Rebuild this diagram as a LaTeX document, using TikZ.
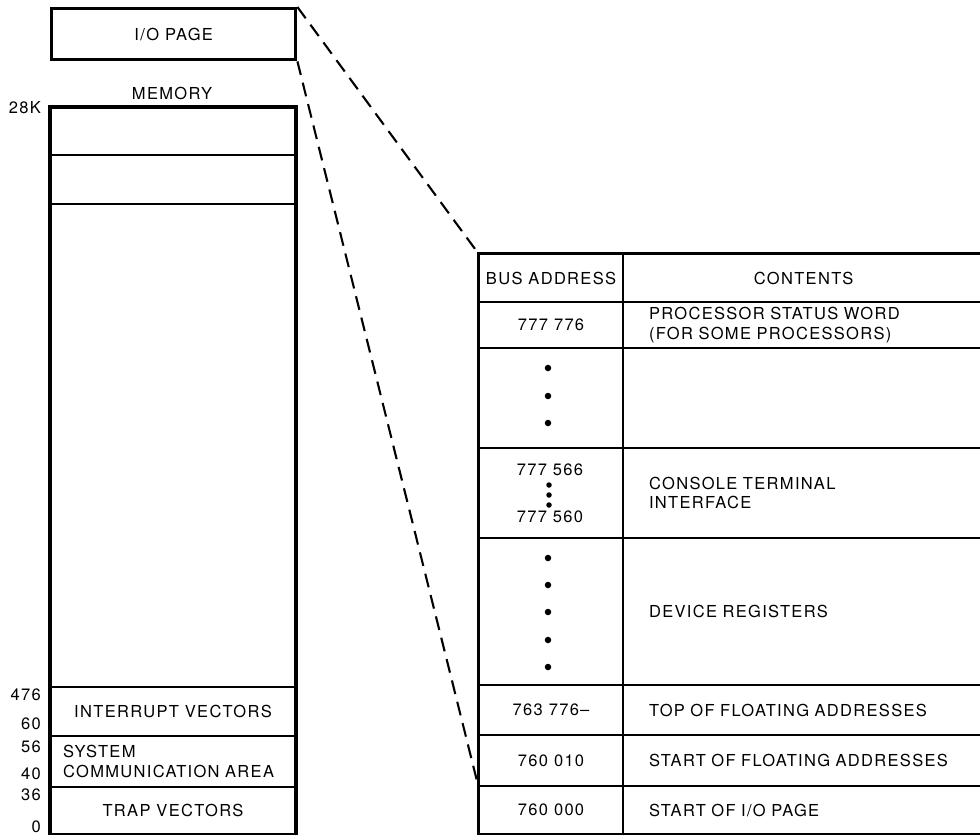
\documentclass[tikz,border=0pt]{standalone}
\usepackage{fontspec}
\setmainfont{TeX Gyre Heros}[LetterSpace=8]
\usepackage{tikz}
\usetikzlibrary{positioning}
\tikzstyle{iobox}=[rectangle, draw=black, line width=3.4pt, anchor=north west,
minimum width=244pt, minimum height=51pt, inner sep=0pt]
\tikzstyle{memcell}=[rectangle, draw=black, line width=2.1pt, anchor=north west,
minimum width=244pt, inner sep=0pt]
\tikzstyle{addrcell}=[rectangle, draw=black, line width=2.1pt, anchor=north west,
minimum width=144pt, inner sep=0pt]
\tikzstyle{textcell}=[rectangle, draw=black, line width=2.1pt, anchor=north west,
minimum width=361pt, text width=309pt, inner xsep=26pt, inner ysep=0pt, align=left]
\tikzstyle{marker}=[anchor=east, inner sep=0pt]
\tikzstyle{regdot}=[circle, fill=black, inner sep=0pt, minimum size=6.5pt]
\tikzstyle{zoomline}=[line width=2.1pt, dash pattern=on 14pt off 8pt]

\begin{document}
\begin{tikzpicture}[x=1pt, y=-1pt, font=\fontsize{16.5}{19.5}\selectfont]
            \useasboundingbox (0,0) rectangle (980,835);
            % I/O page and memory
            \node (iopage)[iobox] at (50,7) {I/O PAGE};
            \node (memlabel) at (172,93) {MEMORY};
            \node (m1)[memcell, minimum height=47pt] at (50,107) {};
            \node (m2)[memcell, minimum height=49pt] at (50,154) {};
            \node (m3)[memcell, minimum height=483pt] at (50,203) {};
            \node (ivec)[memcell, minimum height=49pt] at (50,686) {INTERRUPT VECTORS};
            \node (sca)[memcell, minimum height=51pt, text width=220pt, inner xsep=12pt, align=left]
                at (50,735) {SYSTEM\\COMMUNICATION AREA};
            \node (trap)[memcell, minimum height=47pt] at (50,786) {TRAP VECTORS};
            \draw[line width=3.4pt] (m1.north west) rectangle (trap.south east);
            % address marks
            \node[marker] at (41,108) {28K};
            \node[marker] at (41,695) {476};
            \node[marker] at (41,724) {60};
            \node[marker] at (41,747) {56};
            \node[marker] at (41,774) {40};
            \node[marker] at (41,795) {36};
            \node[marker] at (41,827) {0};
            % I/O page table
            \node (hdaddr)[addrcell, minimum height=48pt] at (478,253) {BUS ADDRESS};
            \node (hdcont)[textcell, minimum height=48pt, align=center] at (622,253) {CONTENTS};
            \node (a1)[addrcell, minimum height=46pt] at (478,301) {777 776};
            \node (c1)[textcell, minimum height=46pt] at (622,301) {PROCESSOR STATUS WORD\\(FOR SOME PROCESSORS)};
            \node (a2)[addrcell, minimum height=100pt] at (478,347) {};
            \node (c2)[textcell, minimum height=100pt] at (622,347) {};
            \node (a3)[addrcell, minimum height=90pt] at (478,447) {};
            \node (c3)[textcell, minimum height=90pt] at (622,447) {CONSOLE TERMINAL\\INTERFACE};
            \node (a4)[addrcell, minimum height=147pt] at (478,537) {};
            \node (c4)[textcell, minimum height=147pt] at (622,537) {DEVICE REGISTERS};
            \node (a5)[addrcell, minimum height=50pt] at (478,684) {763 776--};
            \node (c5)[textcell, minimum height=50pt] at (622,684) {TOP OF FLOATING ADDRESSES};
            \node (a6)[addrcell, minimum height=51pt] at (478,734) {760 010};
            \node (c6)[textcell, minimum height=51pt] at (622,734) {START OF FLOATING ADDRESSES};
            \node (a7)[addrcell, minimum height=48pt] at (478,785) {760 000};
            \node (c7)[textcell, minimum height=48pt] at (622,785) {START OF I/O PAGE};
            \node (csthi) at (550,470) {777 566};
            \node (cstlo) at (550,517) {777 560};
            \draw[line width=3pt] (hdaddr.north east -| c7.east) -- (hdaddr.north west) -- (a7.south west) -- (c7.south east);
            \foreach \y in {368,396,423}
                \node[regdot] at (548,\y) {};
            \foreach \y in {485,495,505}
                \node[regdot, minimum size=5.5pt] at (549,\y) {};
            \foreach \y in {558,585,612,640,667}
                \node[regdot] at (548,\y) {};
            % expansion of the I/O page
            \draw[zoomline] (iopage.north east) -- (hdaddr.north west);
            \draw[zoomline] (iopage.south east) -- (a7.north west);
        \end{tikzpicture}
\end{document}
